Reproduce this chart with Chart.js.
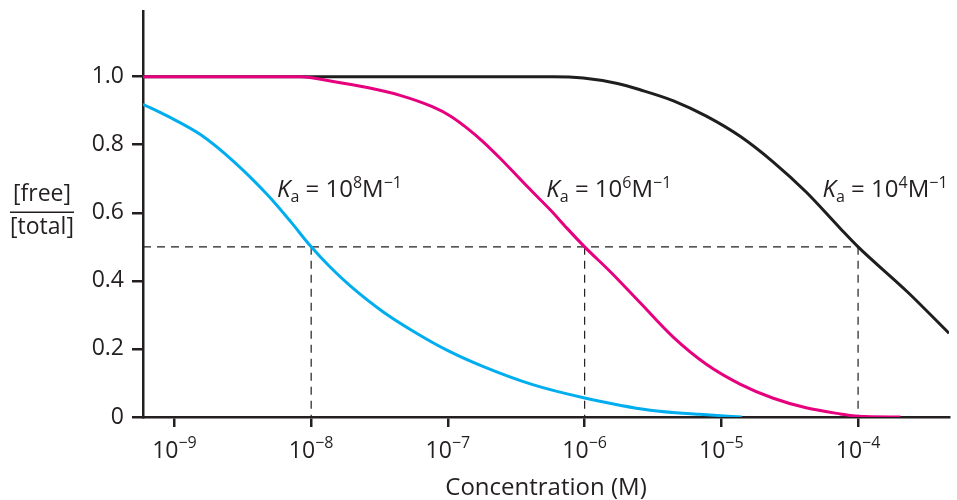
<!DOCTYPE html>
<html>
<head>
<meta charset="utf-8">
<script src="https://cdn.jsdelivr.net/npm/chart.js@4.4.0/dist/chart.umd.min.js"></script>
<style>
  html, body { margin: 0; padding: 0; background: #fff; }
</style>
</head>
<body>
<canvas id="chart" width="957" height="500"></canvas>
<script>
// free fraction vs log10(concentration / M)
const cyanLogC = [-9.23, -9.05, -8.81, -8.57, -8.32, -8.15, -8.0, -7.86, -7.71, -7.47, -7.22, -7.0, -6.74, -6.38, -6.0, -5.52, -5.16, -4.85];
const cyanFrac = [0.919, 0.884, 0.83, 0.752, 0.653, 0.574, 0.5, 0.44, 0.384, 0.308, 0.244, 0.195, 0.148, 0.095, 0.056, 0.02, 0.008, 0.0];

const magentaLogC = [-9.23, -8.08, -7.84, -7.59, -7.35, -7.11, -6.98, -6.86, -6.74, -6.62, -6.50, -6.38, -6.25, -6.13, -6.0, -5.81, -5.59, -5.35, -5.11, -4.86, -4.62, -4.38, -4.13, -4.0, -3.69];
const magentaFrac = [1.0, 1.0, 0.986, 0.968, 0.945, 0.911, 0.884, 0.849, 0.808, 0.761, 0.711, 0.661, 0.608, 0.555, 0.5, 0.426, 0.334, 0.234, 0.155, 0.096, 0.055, 0.027, 0.009, 0.002, 0.0];

const blackLogC = [-9.23, -6.47, -6.23, -6.01, -5.76, -5.59, -5.35, -5.11, -4.86, -4.62, -4.38, -4.13, -4.0, -3.64, -3.335];
const blackFrac = [1.0, 1.0, 1.0, 0.996, 0.98, 0.961, 0.929, 0.884, 0.824, 0.749, 0.661, 0.554, 0.5, 0.368, 0.246];

const decadeExps = [-9, -8, -7, -6, -5, -4];
const yTickValues = [0, 0.2, 0.4, 0.6, 0.8, 1.0];

// half-saturation guides and the K_a labels
const halfLogC = [-8, -6, -4];
const halfLevel = 0.5;
const labelLogC = [-8.25, -6.28, -4.26];
const labelKaExp = ['8', '6', '4'];
const labelLevel = 0.646;

const xMinLog = -9.23;
const xMaxLog = -3.335;
const yMax = 1.193;

const INK = '#231f20';
const FONT = '"Open Sans", "Noto Sans", sans-serif';
const MAIN = 24;
const SUP = 16;

const toPoints = (logs, fr) => logs.map((l, i) => ({ x: Math.pow(10, l), y: fr[i] }));

const curve = (label, logs, fr, color) => ({
    label,
    data: toPoints(logs, fr),
    borderColor: color,
    borderWidth: 3,
    pointRadius: 0,
    fill: false,
    cubicInterpolationMode: 'monotone'
});

const dash = (pts) => ({
    data: pts,
    borderColor: INK,
    borderWidth: 1.2,
    borderDash: [8, 6],
    pointRadius: 0,
    fill: false,
    tension: 0
});

const datasets = [
    curve('Ka = 1e8', cyanLogC, cyanFrac, '#00aeef'),
    curve('Ka = 1e6', magentaLogC, magentaFrac, '#e6007e'),
    curve('Ka = 1e4', blackLogC, blackFrac, '#1e1e1e'),
    dash([{ x: Math.pow(10, xMinLog), y: halfLevel }, { x: Math.pow(10, halfLogC[halfLogC.length - 1]), y: halfLevel }])
];
halfLogC.forEach(e => {
    datasets.push(dash([{ x: Math.pow(10, e), y: halfLevel }, { x: Math.pow(10, e), y: 0 }]));
});

// draw a run of text pieces (normal / sub / superscript) starting at x
function drawRun(ctx, x, y, parts, align) {
    let total = 0;
    parts.forEach(p => {
        ctx.font = (p.italic ? 'italic ' : '') + p.size + 'px ' + FONT;
        p.w = ctx.measureText(p.t).width;
        total += p.w;
    });
    let cx = align === 'center' ? x - total / 2 : x;
    parts.forEach(p => {
        ctx.font = (p.italic ? 'italic ' : '') + p.size + 'px ' + FONT;
        ctx.fillText(p.t, cx, y + (p.dy || 0));
        cx += p.w;
    });
}

const textPlugin = {
    id: 'textPlugin',
    afterDraw(chart) {
        const ctx = chart.ctx;
        const xs = chart.scales.x;
        const ys = chart.scales.y;
        ctx.save();
        ctx.fillStyle = INK;
        ctx.textAlign = 'left';
        ctx.textBaseline = 'alphabetic';

        // x tick labels 10^-n
        decadeExps.forEach(e => {
            const px = xs.getPixelForValue(Math.pow(10, e));
            drawRun(ctx, px, ys.bottom + 41, [
                { t: '10', size: MAIN - 1 },
                { t: '\u2212' + Math.abs(e), size: SUP, dy: -10 }
            ], 'center');
        });

        // K_a labels
        labelLogC.forEach((l, i) => {
            const px = xs.getPixelForValue(Math.pow(10, l));
            const py = ys.getPixelForValue(labelLevel);
            drawRun(ctx, px, py, [
                { t: 'K', size: MAIN, italic: true },
                { t: 'a', size: SUP, dy: 5 },
                { t: ' = 10', size: MAIN },
                { t: labelKaExp[i], size: SUP, dy: -9 },
                { t: 'M', size: MAIN },
                { t: '\u22121', size: SUP, dy: -9 }
            ], 'left');
        });

        // y title as a fraction
        const cx = 42;
        const cy = ys.getPixelForValue(0.6);
        ctx.textAlign = 'center';
        ctx.font = (MAIN - 1) + 'px ' + FONT;
        ctx.fillText('[free]', cx, cy - 12);
        ctx.fillText('[total]', cx, cy + 21);
        ctx.strokeStyle = INK;
        ctx.lineWidth = 1.5;
        ctx.beginPath();
        ctx.moveTo(10, cy - 0.5);
        ctx.lineTo(74, cy - 0.5);
        ctx.stroke();
        ctx.restore();
    }
};

new Chart(document.getElementById('chart'), {
    type: 'line',
    data: { datasets },
    options: {
        responsive: false,
        animation: false,
        layout: { padding: { top: 11, right: 8, left: 0, bottom: 0 } },
        plugins: { legend: { display: false }, tooltip: { enabled: false } },
        scales: {
            x: {
                type: 'logarithmic',
                min: Math.pow(10, xMinLog),
                max: Math.pow(10, xMaxLog),
                afterBuildTicks: (scale) => {
                    scale.ticks = decadeExps.map(e => ({ value: Math.pow(10, e) }));
                },
                afterFit: (scale) => {
                    scale.height = 83;
                    scale.paddingLeft = 0;
                    scale.paddingRight = 0;
                },
                ticks: { display: false },
                grid: { drawOnChartArea: false, drawTicks: true, tickLength: 10, color: INK, lineWidth: 2.5 },
                border: { color: INK, width: 2.5 },
                title: {
                    display: true,
                    text: 'Concentration (M)',
                    color: INK,
                    font: { family: FONT, size: MAIN, lineHeight: 1 },
                    padding: { top: 0, bottom: 0 }
                }
            },
            y: {
                min: 0,
                max: yMax,
                afterBuildTicks: (scale) => {
                    scale.ticks = yTickValues.map(v => ({ value: v }));
                },
                afterFit: (scale) => {
                    scale.width = 143;
                    scale.paddingTop = 0;
                    scale.paddingBottom = 0;
                },
                ticks: {
                    color: INK,
                    padding: 8,
                    font: { family: FONT, size: MAIN - 1 },
                    callback: (v) => (v === 0 ? '0' : v.toFixed(1))
                },
                grid: { drawOnChartArea: false, drawTicks: true, tickLength: 11, color: INK, lineWidth: 2.5 },
                border: { color: INK, width: 2.5 }
            }
        }
    },
    plugins: [textPlugin]
});
</script>
</body>
</html>
